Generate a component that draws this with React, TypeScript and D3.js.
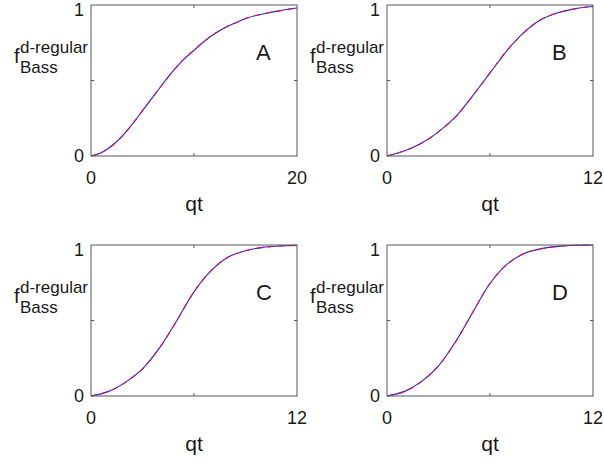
import * as d3 from 'd3'

const tA = d3.range(0, 21)
const fA = [0, 0.022, 0.066, 0.13, 0.21, 0.3, 0.39, 0.48, 0.565, 0.64, 0.7, 0.76, 0.81, 0.85, 0.88, 0.91, 0.93, 0.945, 0.958, 0.97, 0.98]

const tBCD = d3.range(0, 13)
const fB = [0, 0.033, 0.084, 0.16, 0.26, 0.4, 0.55, 0.7, 0.82, 0.905, 0.95, 0.976, 0.99]
const fC = [0, 0.029, 0.09, 0.18, 0.32, 0.5, 0.69, 0.83, 0.92, 0.962, 0.984, 0.993, 0.998]
const fD = [0, 0.029, 0.095, 0.2, 0.36, 0.555, 0.745, 0.873, 0.944, 0.976, 0.991, 0.998, 1.0]

const panelNames = ['A', 'B', 'C', 'D']
const xMaxes = [20, 12, 12, 12]

const W = 604
const H = 463
const FONT = '"Liberation Sans", Arial, Helvetica, sans-serif'
const INK = '#1a1a1a'
const BOX = '#555'

type PanelProps = {
  left: number
  top: number
  name: string
  xMax: number
  ts: number[]
  fs: number[]
}

function Panel({ left, top, name, xMax, ts, fs }: PanelProps) {
  const w = 206
  const h = 151
  const x = d3.scaleLinear().domain([0, xMax]).range([left, left + w])
  const y = d3.scaleLinear().domain([0, 1]).range([top + h, top])
  const pts: [number, number][] = ts.map((t, i) => [t, fs[i]])
  const line = d3.line<[number, number]>()
    .x(d => x(d[0]))
    .y(d => y(d[1]))
    .curve(d3.curveCatmullRom.alpha(0.5))
  const path = line(pts) || ''
  const tl = 3
  const xm = xMax / 2

  return (
    <g>
      <path d={path} fill="none" stroke="#1f1fff" strokeWidth={1.1} />
      <path d={path} fill="none" stroke="#e0103a" strokeWidth={1.1} strokeDasharray="6,5" />
      <rect x={left} y={top} width={w} height={h} fill="none" stroke={BOX} strokeWidth={1} />
      {/* ticks, inward, mirrored */}
      <line x1={x(xm)} x2={x(xm)} y1={y(0)} y2={y(0) - tl} stroke={BOX} />
      <line x1={x(xm)} x2={x(xm)} y1={y(1)} y2={y(1) + tl} stroke={BOX} />
      <line x1={x(0)} x2={x(0) + tl} y1={y(0.5)} y2={y(0.5)} stroke={BOX} />
      <line x1={x(xMax)} x2={x(xMax) - tl} y1={y(0.5)} y2={y(0.5)} stroke={BOX} />
      <g fontFamily={FONT} fill={INK}>
        <text x={x(0)} y={y(0) + 28} fontSize={18} textAnchor="middle">0</text>
        <text x={x(xMax)} y={y(0) + 28} fontSize={18} textAnchor="middle">{xMax}</text>
        <text x={x(0) - 7} y={y(0) + 6} fontSize={18} textAnchor="end">0</text>
        <text x={x(0) - 7} y={y(1) + 11} fontSize={18} textAnchor="end">1</text>
        <text x={left + w / 2} y={y(0) + 55} fontSize={21} textAnchor="middle">qt</text>
        <text x={left + 165} y={top + 55} fontSize={22}>{name}</text>
        <text x={left - 77} y={top + 58} fontSize={20}>f</text>
        <text x={left - 71} y={top + 48} fontSize={17}>d-regular</text>
        <text x={left - 71} y={top + 68} fontSize={17}>Bass</text>
      </g>
    </g>
  )
}

export default function App() {
  const lefts = [91, 387, 91, 387]
  const tops = [5, 5, 245, 245]
  const series = [fA, fB, fC, fD]
  const times = [tA, tBCD, tBCD, tBCD]
  return (
    <svg width={W} height={H} style={{ position: 'absolute', left: 0, top: 0, background: '#fff' }}>
      {panelNames.map((n, i) => (
        <Panel key={n} left={lefts[i]} top={tops[i]} name={n} xMax={xMaxes[i]} ts={times[i]} fs={series[i]} />
      ))}
    </svg>
  )
}
